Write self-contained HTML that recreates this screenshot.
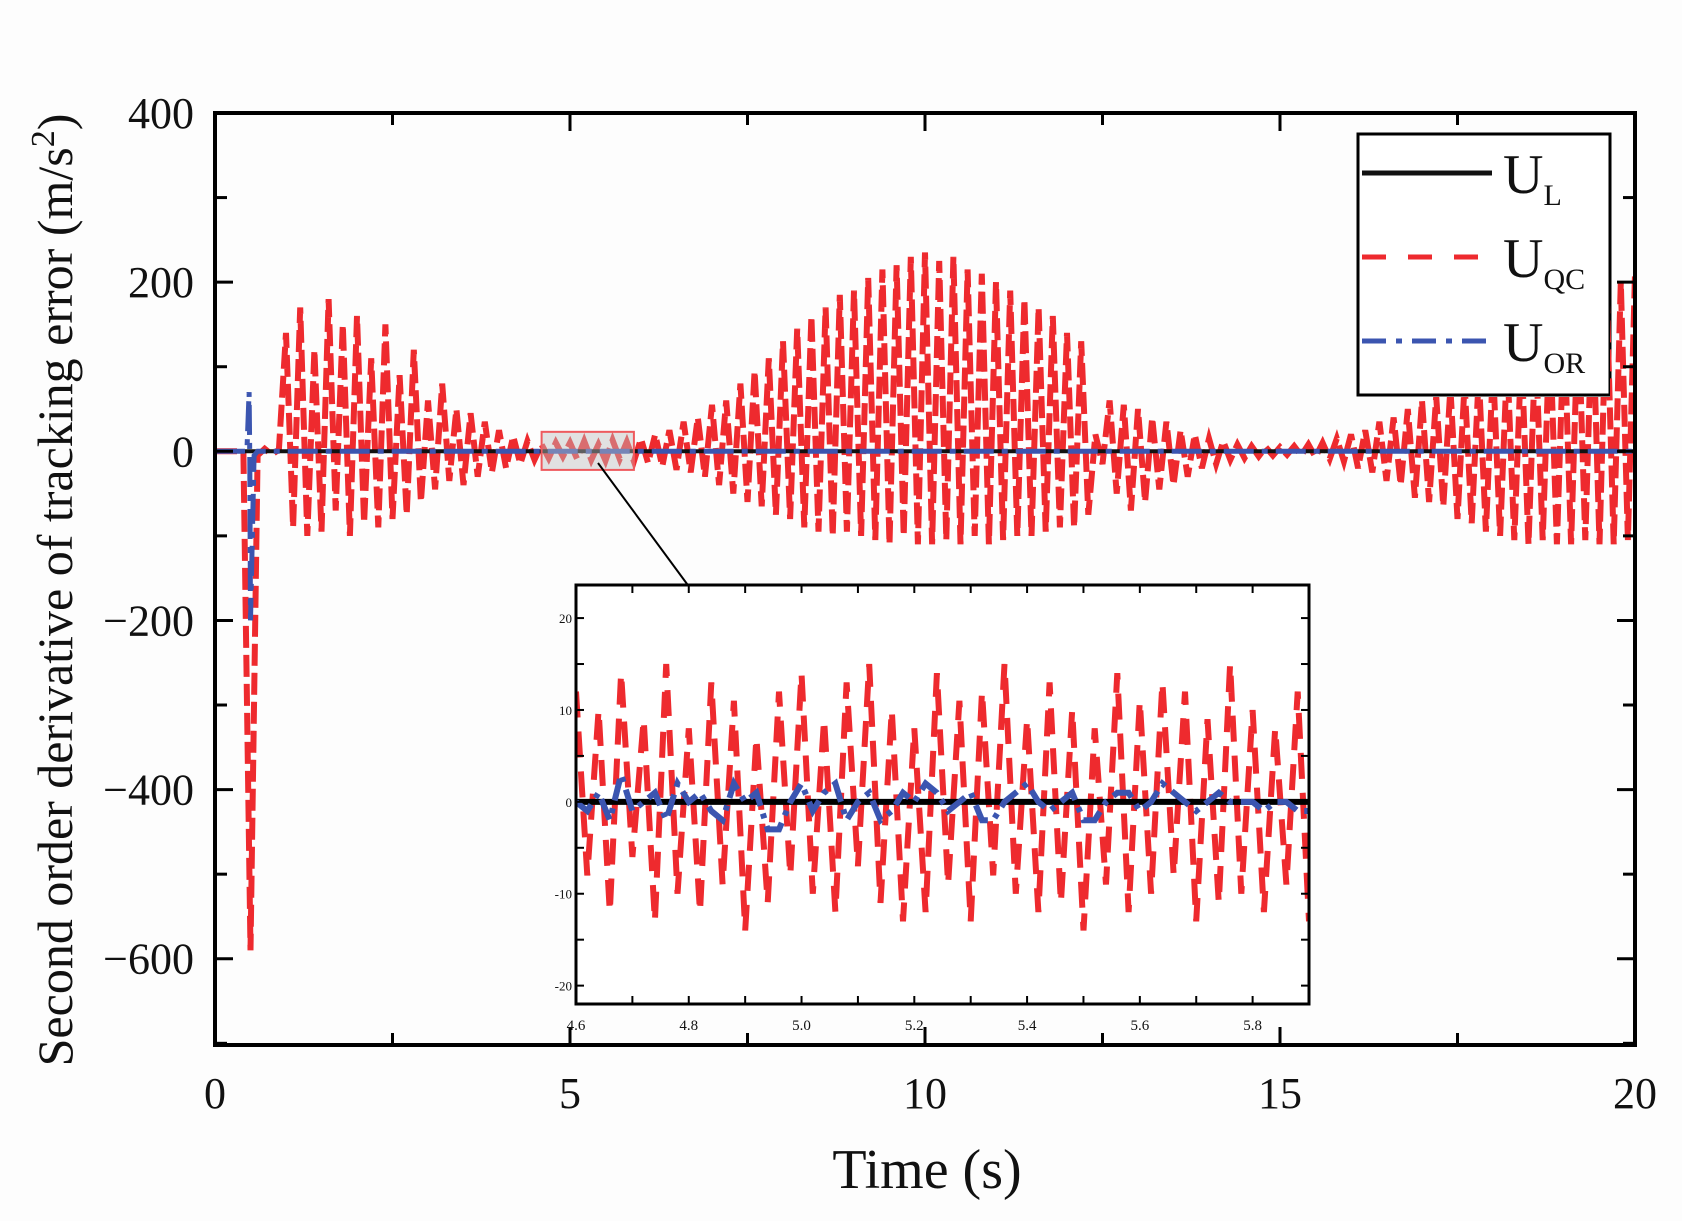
<!DOCTYPE html>
<html><head><meta charset="utf-8"><style>
html,body{margin:0;padding:0;background:#fff}
svg{display:block}
text{font-family:"Liberation Serif",serif;fill:#111}
</style></head><body>
<svg id="chart" width="1682" height="1221" viewBox="0 0 1682 1221" xmlns="http://www.w3.org/2000/svg">
<rect x="0" y="0" width="1682" height="1221" fill="#fdfdfd"/>
<defs>
<clipPath id="mainClip"><rect x="215" y="113" width="1420" height="932"/></clipPath>
<clipPath id="insetClip"><rect x="576" y="585" width="733" height="419"/></clipPath>
</defs>
<g id="legend"></g>
<g id="mainData" clip-path="url(#mainClip)"></g>
<g id="mainAxes"></g>
<g id="inset"></g>
<text x="927" y="1188" font-size="56" text-anchor="middle">Time (s)</text>
<text transform="translate(72,590) rotate(-90)" font-size="50" text-anchor="middle">Second order derivative of tracking error (m/s<tspan dy="-18" font-size="34">2</tspan><tspan dy="18">)</tspan></text>
</svg>
<script>
// ---- main chart data ----
const xTicks = [0, 5, 10, 15, 20];
const yTicks = [400, 200, 0, -200, -400, -600];
const yTickLabels = ["400", "200", "0", "\u2212200", "\u2212400", "\u2212600"];
const redStart = 0;
const redStep = 0.1;
const redValues = [
0,0,0,0,0,-590,-5,3,-4,2,
140,-90,170,-100,120,-95,180,-70,150,-100,
160,-85,110,-90,150,-80,90,-75,120,-60,
60,-45,80,-35,50,-40,45,-30,35,-25,
25,-20,18,-15,12,-10,8,-8,10,-6,
10,-9,12,-10,8,-11,13,-9,11,-12,
15,-14,20,-18,25,-22,35,-25,40,-30,
55,-40,60,-50,80,-60,95,-65,110,-75,
130,-80,145,-90,160,-95,170,-100,185,-95,
190,-100,205,-105,215,-110,220,-100,230,-110,
235,-110,225,-105,230,-110,215,-100,210,-110,
200,-105,190,-100,180,-100,170,-95,160,-90,
140,-90,130,-75,20,-15,60,-50,55,-70,
50,-60,40,-45,35,-40,25,-30,20,-20,
15,-15,12,-10,8,-8,6,-6,5,-5,
5,-4,6,-5,8,-7,10,-9,15,-12,
20,-20,25,-25,35,-35,40,-40,50,-55,
60,-60,65,-65,75,-80,80,-85,90,-95,
100,-100,110,-105,120,-110,130,-105,145,-110,
150,-110,165,-105,180,-110,190,-110,200,-105,
210];
const blueTimes = [0, 0.45, 0.48, 0.49, 0.5, 0.55, 0.6, 20];
const blueValues = [0, 0, 70, -10, -200, -5, 0, 0];
const blackTimes = [0, 20];
const blackValues = [0, 0];
// ---- inset data ----
const insetXTicks = [4.6, 4.8, 5.0, 5.2, 5.4, 5.6, 5.8];
const insetXLabels = ["4.6", "4.8", "5.0", "5.2", "5.4", "5.6", "5.8"];
const insetYTicks = [20, 10, 0, -10, -20];
const insetStart = 4.6;
const insetStep = 0.02;
const insetRed = [12,-8,10,-12,14,-6,9,-13,15,-10,8,-12,13,-9,11,-14,7,-11,12,-8,14,-10,9,-12,13,-7,15,-11,10,-13,8,-12,14,-9,11,-13,12,-8,15,-10,9,-12,13,-11,10,-14,8,-9,14,-12,11,-10,13,-8,12,-13,9,-11,15,-10,10,-12,8,-9,12,-13];
const insetBlue = [0,-1,1,-2,3,-1,0,1,-2,2,0,1,-1,-2,2,0,1,-3,-3,0,2,-1,1,2,-2,0,1,-2,-1,1,0,2,1,-1,0,1,-2,-2,0,1,2,0,-1,0,1,-2,-2,0,1,1,-1,0,2,1,0,-1,0,1,0,0,0,-1,0,0,-1,-1];

const NS = "http://www.w3.org/2000/svg";
function mk(tag, attrs, parent){const e=document.createElementNS(NS,tag);for(const k in attrs)e.setAttribute(k,attrs[k]);parent.appendChild(e);return e;}

const L=215,R=1635,T=113,B=1045;
const xMin=0,xMax=20,yMin=-702,yMax=400;
const sx=v=>L+(v-xMin)/(xMax-xMin)*(R-L);
const sy=v=>B-(v-yMin)/(yMax-yMin)*(B-T);

// legend (drawn beneath data)
const lg=document.getElementById('legend');
const lbox=mk('rect',{x:1358,y:134,width:252,height:261,fill:"#fff",stroke:"#000","stroke-width":3},lg);


const entries=[["L","#111",null,173],["QC","#ee2a2e","24 22",257],["OR","#3b55b0","24 10 6 10",341]];
entries.forEach(e=>{
  const g=mk('g',{},lg);
  
  
  const a={x1:1362,x2:1492,y1:e[3],y2:e[3],stroke:e[1],"stroke-width":5};
  if(e[2])a["stroke-dasharray"]=e[2];
  mk('line',a,g);
  const t=mk('text',{x:1503,y:e[3]+20,"font-size":56},g);
  t.innerHTML='U<tspan font-size="30" dy="12">'+e[0]+'</tspan>';
});

const md=document.getElementById('mainData');
// restrict red in legend area: clip out legend box region
const clipId='redClip';
const defs=document.querySelector('defs');
const cp=mk('clipPath',{id:clipId},defs);
mk('path',{d:"M215 113H1635V1045H215Z M1356 132V397H1610V132Z","clip-rule":"evenodd"},cp);
const redG=mk('g',{"clip-path":"url(#"+clipId+")"},md);
let d="";
redValues.forEach((v,i)=>{d+=(i?"L":"M")+sx(redStart+i*redStep).toFixed(1)+" "+sy(v).toFixed(1);});
const red=mk('path',{d:d,fill:"none",stroke:"#ee2a2e","stroke-width":6,"stroke-dasharray":"22 7"},redG);


d="";blackTimes.forEach((t,i)=>{d+=(i?"L":"M")+sx(t)+" "+sy(blackValues[i]);});
const blk=mk('path',{d:d,fill:"none",stroke:"#111","stroke-width":4},md);


d="";blueTimes.forEach((t,i)=>{d+=(i?"L":"M")+sx(t).toFixed(1)+" "+sy(blueValues[i]).toFixed(1);});
const blu=mk('path',{d:d,fill:"none",stroke:"#3b55b0","stroke-width":5,"stroke-dasharray":"30 8 6 8"},md);



const hl=mk('rect',{x:sx(4.6),y:sy(23),width:sx(5.9)-sx(4.6),height:sy(-22)-sy(23),fill:"rgba(190,190,190,0.45)",stroke:"#ee5a5e","stroke-width":2},md);



const ax=document.getElementById('mainAxes');
const frame=mk('rect',{x:L,y:T,width:R-L,height:B-T,fill:"none",stroke:"#000","stroke-width":4},ax);


for(let v=0;v<=20;v+=2.5){
  const len=(v%5===0)?18:12;
  mk('line',{x1:sx(v),x2:sx(v),y1:B,y2:B-len,stroke:"#000","stroke-width":3},ax);
  mk('line',{x1:sx(v),x2:sx(v),y1:T,y2:T+len,stroke:"#000","stroke-width":3},ax);
}
for(let v=-700;v<=400;v+=100){
  const len=(v%200===0)?18:12;
  mk('line',{x1:L,x2:L+len,y1:sy(v),y2:sy(v),stroke:"#000","stroke-width":3},ax);
  mk('line',{x1:R,x2:R-len,y1:sy(v),y2:sy(v),stroke:"#000","stroke-width":3},ax);
}
xTicks.forEach(v=>{
  const t=mk('text',{x:sx(v),y:1108,"font-size":44,"text-anchor":"middle"},ax);t.textContent=String(v);
  
  
});
yTicks.forEach((v,i)=>{
  const t=mk('text',{x:194,y:sy(v)+15,"font-size":44,"text-anchor":"end"},ax);t.textContent=yTickLabels[i];
  
  
});

const ar=mk('g',{},ax);


mk('line',{x1:598,y1:463,x2:718,y2:626,stroke:"#000","stroke-width":2},ar);
mk('polygon',{points:"724,637 704,622 716,613",fill:"#000"},ar);

// inset
const IL=576,IR=1309,IT=585,IB=1004;
const ixMin=4.6,ixMax=5.9,iyMin=-22,iyMax=23.6;
const ix=v=>IL+(v-ixMin)/(ixMax-ixMin)*(IR-IL);
const iy=v=>IB-(v-iyMin)/(iyMax-iyMin)*(IB-IT);
const ins=document.getElementById('inset');
const ibg=mk('rect',{x:IL,y:IT,width:IR-IL,height:IB-IT,fill:"#fff"},ins);


const idg=mk('g',{"clip-path":"url(#insetClip)"},ins);
d="";insetRed.forEach((v,i)=>{d+=(i?"L":"M")+ix(insetStart+i*insetStep).toFixed(1)+" "+iy(v).toFixed(1);});
const ired=mk('path',{d:d,fill:"none",stroke:"#ee2a2e","stroke-width":6,"stroke-dasharray":"26 14"},idg);


const iblk=mk('line',{x1:IL,x2:IR,y1:iy(0),y2:iy(0),stroke:"#000","stroke-width":6},idg);


d="";insetBlue.forEach((v,i)=>{d+=(i?"L":"M")+ix(insetStart+i*insetStep).toFixed(1)+" "+iy(v).toFixed(1);});
const iblu=mk('path',{d:d,fill:"none",stroke:"#3b55b0","stroke-width":6,"stroke-dasharray":"22 8 5 8"},idg);


const iframe=mk('rect',{x:IL,y:IT,width:IR-IL,height:IB-IT,fill:"none",stroke:"#000","stroke-width":3},ins);


for(let v=4.6;v<=5.9001;v+=0.1){
  mk('line',{x1:ix(v),x2:ix(v),y1:IB,y2:IB-8,stroke:"#000","stroke-width":2},ins);
  mk('line',{x1:ix(v),x2:ix(v),y1:IT,y2:IT+8,stroke:"#000","stroke-width":2},ins);
}
for(let v=-20;v<=20;v+=5){
  mk('line',{x1:IL,x2:IL+8,y1:iy(v),y2:iy(v),stroke:"#000","stroke-width":2},ins);
  mk('line',{x1:IR,x2:IR-8,y1:iy(v),y2:iy(v),stroke:"#000","stroke-width":2},ins);
}
insetXTicks.forEach((v,i)=>{
  const t=mk('text',{x:ix(v),y:IB+26,"font-size":15,"text-anchor":"middle",fill:"#557"},ins);t.textContent=insetXLabels[i];
  
  
});
insetYTicks.forEach(v=>{
  const t=mk('text',{x:IL-4,y:iy(v)+5,"font-size":13,"text-anchor":"end",fill:"#557"},ins);t.textContent=String(v);
  
  
});
</script>
</body></html>
